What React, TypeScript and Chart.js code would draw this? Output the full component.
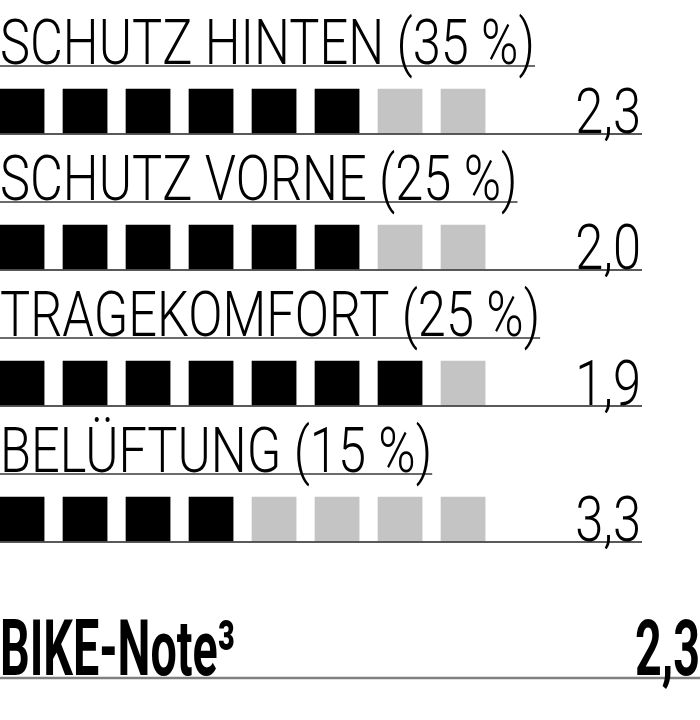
import { useEffect, useRef } from "react";
import { Chart, registerables } from "chart.js";
import type { Plugin } from "chart.js";

Chart.register(...registerables);

const criteria = ["SCHUTZ HINTEN", "SCHUTZ VORNE", "TRAGEKOMFORT", "BELÜFTUNG"];
const weights = [35, 25, 25, 15];
const grades = [2.3, 2.0, 1.9, 3.3];
const filledBoxes = [6, 6, 7, 4];
const boxCount = 8;
const overallLabel = "BIKE-Note³";
const overallGrade = 2.3;

const FONT = "Roboto, 'Liberation Sans', sans-serif";
const formatGrade = (v: number) => v.toFixed(1).replace(".", ",");

function drawText(
    ctx: CanvasRenderingContext2D,
    text: string,
    x: number,
    y: number,
    sx: number,
    align: CanvasTextAlign
) {
    ctx.save();
    ctx.translate(x, y);
    ctx.scale(sx, 1);
    ctx.textAlign = align;
    ctx.textBaseline = "alphabetic";
    ctx.fillText(text, 0, 0);
    ctx.restore();
}

function line(ctx: CanvasRenderingContext2D, x1: number, x2: number, y: number, color: string, w: number) {
    ctx.beginPath();
    ctx.strokeStyle = color;
    ctx.lineWidth = w;
    ctx.moveTo(x1, y);
    ctx.lineTo(x2, y);
    ctx.stroke();
}

const ratingText: Plugin<"bar"> = {
    id: "ratingText",
    afterDatasetsDraw(chart) {
        const { ctx } = chart;
        const y = chart.scales.y;
        ctx.save();
        ctx.fillStyle = "#000";

        ctx.font = `300 63px ${FONT}`;
        const sx = 535 / ctx.measureText(`${criteria[0]} (${weights[0]} %)`).width;

        criteria.forEach((name, i) => {
            const cy = y.getPixelForValue(i);
            const title = `${name} (${weights[i]} %)`;
            ctx.font = `300 63px ${FONT}`;
            const tw = ctx.measureText(title).width * sx;
            line(ctx, 0, tw, cy - 45, "#3a3a3a", 1.6);
            line(ctx, 0, 642, cy + 23, "#222", 1.6);
            ctx.fillStyle = "#000";
            drawText(ctx, title, 0, cy - 47, sx, "left");
            drawText(ctx, formatGrade(grades[i]), 641, cy + 22, sx, "right");
        });

        const ty = y.getPixelForValue(criteria.length);
        ctx.font = `bold 77px ${FONT}`;
        const sxb = 235 / ctx.measureText(overallLabel).width;
        line(ctx, 0, 700, ty + 23, "#808080", 2.5);
        ctx.fillStyle = "#000";
        drawText(ctx, overallLabel, 0, ty + 20, sxb, "left");
        drawText(ctx, formatGrade(overallGrade), 700, ty + 20, sxb, "right");

        ctx.restore();
    },
};

export default function App() {
    const canvasRef = useRef<HTMLCanvasElement | null>(null);
    const chartRef = useRef<Chart | null>(null);

    useEffect(() => {
        const canvas = canvasRef.current;
        if (!canvas) {
            return;
        }
        if (chartRef.current) {
            chartRef.current.destroy();
        }

        const datasets = Array.from({ length: boxCount }, (_, b) => ({
            label: `Feld ${b + 1}`,
            data: criteria.map(() => [b, b + 0.7] as [number, number]),
            backgroundColor: filledBoxes.map((n) => (b < n ? "#000000" : "#c4c4c4")),
            borderWidth: 0,
            barThickness: 44,
            grouped: false,
        }));

        chartRef.current = new Chart(canvas, {
            type: "bar",
            data: { labels: criteria, datasets },
            options: {
                indexAxis: "y",
                animation: false,
                responsive: true,
                maintainAspectRatio: false,
                layout: { padding: { top: 43, bottom: 133, left: 0, right: 0 } },
                scales: {
                    x: { type: "linear", min: 0, max: 700 / 63, display: false },
                    y: { type: "category", display: false, offset: true },
                },
                plugins: {
                    legend: { display: false },
                    tooltip: { enabled: false },
                },
            },
            plugins: [ratingText],
        });

        return () => {
            if (chartRef.current) {
                chartRef.current.destroy();
                chartRef.current = null;
            }
        };
    }, []);

    return (
        <div style={{ position: "fixed", left: 0, top: 0, width: 700, height: 720, background: "#fff" }}>
            <canvas ref={canvasRef} />
        </div>
    );
}
